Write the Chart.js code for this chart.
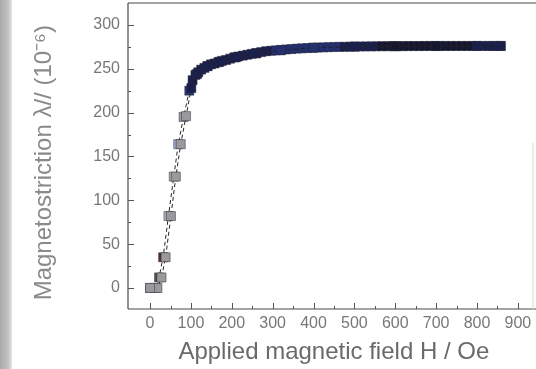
<!DOCTYPE html>
<html>
<head>
<meta charset="utf-8">
<script src="https://cdn.jsdelivr.net/npm/chart.js@4"></script>
<style>
  html, body { margin: 0; padding: 0; background: #fff; }
  body { width: 536px; height: 369px; overflow: hidden; position: relative; }
  #strip { position: absolute; left: 0; top: 0; width: 12px; height: 369px;
    background: linear-gradient(to right, #a9a9a9, #c4c4c4 70%, #e6e6e6); }
  #myChart { position: absolute; left: 0; top: 0; }
</style>
</head>
<body>
<div id="strip"></div>
<canvas id="myChart" width="536" height="369"></canvas>
<script>
// field (Oe) and magnetostriction (10^-6), increasing field branch
const upH = [0, 14, 22, 32, 45, 58, 69, 82, 96, 104, 111, 118, 125, 133, 141, 149, 158, 167, 176, 186,
  196, 206, 216, 227, 238, 249, 260, 272, 284, 296, 308, 320, 333, 346, 359, 372, 385, 398, 411, 424,
  437, 450, 463, 476, 489, 502, 515, 528, 541, 554, 567, 580, 593, 606, 619, 632, 645, 658, 671, 684,
  697, 710, 723, 736, 749, 762, 775, 788, 801, 814, 827, 838, 848, 858];
const upL = [0, 0, 12, 35, 82, 127, 164, 195, 225, 237, 243, 246, 249, 251, 253, 255, 256, 257.5, 259, 260,
  261.5, 263, 264, 265, 266, 267, 268, 269, 270, 270.5, 271, 271.5, 272, 272.5, 273, 273.3, 273.6, 274, 274.2, 274.4,
  274.6, 274.8, 275, 275, 275.2, 275.3, 275.4, 275.5, 275.5, 275.6, 275.7, 275.7, 275.8, 275.8, 275.8, 275.9, 275.9, 275.9, 276, 276,
  276, 276, 276, 276, 276, 276, 276, 276, 276, 276, 276, 276, 276, 276];

// decreasing field branch
const downH = [858, 800, 700, 600, 500, 400, 320, 260, 210, 170, 140, 115, 101, 88, 75, 63, 51, 38, 28, 18, 0];
const downL = [276, 276, 275.9, 275.7, 275.3, 274, 271, 267.5, 263, 258, 253, 244, 228, 196, 164, 127, 82, 35, 12, 0, 0];

const xTicks = [0, 100, 200, 300, 400, 500, 600, 700, 800, 900];
const yTicks = [0, 50, 100, 150, 200, 250, 300];

// scanned marker tints of the low-field points
const lowColors = ["#8c8c8c", "#8e8e8e", "#4d5752", "#5b2b3b", "#a9add0", "#a9a9a9", "#9ba9d0", "#9c9c9c", "#2b3572"];
const navy = "#1b1f4c";

function toXY(hs, ls) {
  return hs.map(function(h, i) { return {x: h, y: ls[i]}; });
}

function markerColor(ctx) {
  if (ctx.dataset.label === "up" && ctx.dataIndex < lowColors.length) return lowColors[ctx.dataIndex];
  let x = ctx.raw ? ctx.raw.x : 0;
  if (ctx.dataset.label === "down" && x < 100) return "#9a9a9a";
  if (x > 300 && x < 470) return "#24306f";
  if (x > 560 && x < 800) return "#15172f";
  return navy;
}

// frame and inward ticks like the original plot
const framePlugin = {
  id: "frame",
  afterDraw(chart) {
    const c = chart.ctx, a = chart.chartArea;
    const xs = chart.scales.x, ys = chart.scales.y;
    c.save();
    c.strokeStyle = "#4a4a4a";
    c.lineWidth = 1.2;
    c.beginPath();
    c.moveTo(a.left, a.top); c.lineTo(536, a.top);
    c.moveTo(a.left, a.top); c.lineTo(a.left, a.bottom);
    c.moveTo(a.left, a.bottom); c.lineTo(536, a.bottom);
    c.stroke();
    c.strokeStyle = "#ddd";
    c.beginPath();
    c.moveTo(a.right, a.top + 140); c.lineTo(a.right, a.bottom);
    c.stroke();
    c.strokeStyle = "#555";
    c.lineWidth = 1;
    c.beginPath();
    for (let v = 0; v <= 900; v += 50) {
      const px = Math.round(xs.getPixelForValue(v)) + 0.5;
      const len = v % 100 === 0 ? 6 : 3;
      c.moveTo(px, a.bottom); c.lineTo(px, a.bottom - len);
    }
    for (let v = 0; v <= 300; v += 25) {
      const py = Math.round(ys.getPixelForValue(v)) + 0.5;
      const len = v % 50 === 0 ? 6 : 3;
      c.moveTo(a.left, py); c.lineTo(a.left + len, py);
    }
    c.stroke();
    c.restore();
  }
};

new Chart("myChart", {
  type: "scatter",
  data: {
    datasets: [{
      label: "down",
      data: toXY(downH, downL),
      showLine: true,
      borderColor: "#222",
      borderWidth: 1,
      borderDash: [4, 3],
      pointStyle: "rect",
      pointRadius: 6.4,
      pointBorderWidth: 0.8,
      pointBorderColor: "rgba(40,40,60,0.6)",
      pointBackgroundColor: markerColor
    }, {
      label: "up",
      data: toXY(upH, upL),
      showLine: true,
      borderColor: "#222",
      borderWidth: 1,
      borderDash: [4, 3],
      pointStyle: "rect",
      pointRadius: 6.4,
      pointBorderWidth: 0.8,
      pointBorderColor: "rgba(40,40,60,0.6)",
      pointBackgroundColor: markerColor
    }]
  },
  options: {
    responsive: false,
    animation: false,
    devicePixelRatio: 1,
    layout: { autoPadding: false, padding: { top: 3, right: 3, left: 0, bottom: 0 } },
    plugins: { legend: { display: false }, tooltip: { enabled: false } },
    scales: {
      x: {
        type: "linear",
        min: -54,
        max: 937,
        grid: { display: false, drawTicks: false },
        border: { display: false },
        afterBuildTicks: function(scale) { scale.ticks = xTicks.map(function(v) { return {value: v}; }); },
        afterFit: function(scale) { scale.height = 60; scale.paddingLeft = 0; scale.paddingRight = 0; },
        ticks: { color: "#777", padding: 5, maxRotation: 0, autoSkip: false,
          font: { family: "Liberation Sans", size: 16 } },
        title: { display: true, text: " Applied magnetic field H / Oe", color: "#6a6a6a",
          font: { family: "Liberation Sans", size: 24 }, padding: { top: 0, bottom: 2 } }
      },
      y: {
        type: "linear",
        min: -24,
        max: 325,
        grid: { display: false, drawTicks: false },
        border: { display: false },
        afterBuildTicks: function(scale) { scale.ticks = yTicks.map(function(v) { return {value: v}; }); },
        afterFit: function(scale) { scale.width = 128; scale.paddingTop = 0; scale.paddingBottom = 0; },
        ticks: { color: "#777", padding: 8, autoSkip: false,
          font: { family: "Liberation Sans", size: 16 } },
        title: { display: true, text: "Magnetostriction λ// (10⁻⁶)  ", color: "#8a8a8a",
          font: { family: "Liberation Sans", size: 24 }, padding: { top: 30, bottom: 0 } }
      }
    }
  },
  plugins: [framePlugin]
});
</script>
</body>
</html>
